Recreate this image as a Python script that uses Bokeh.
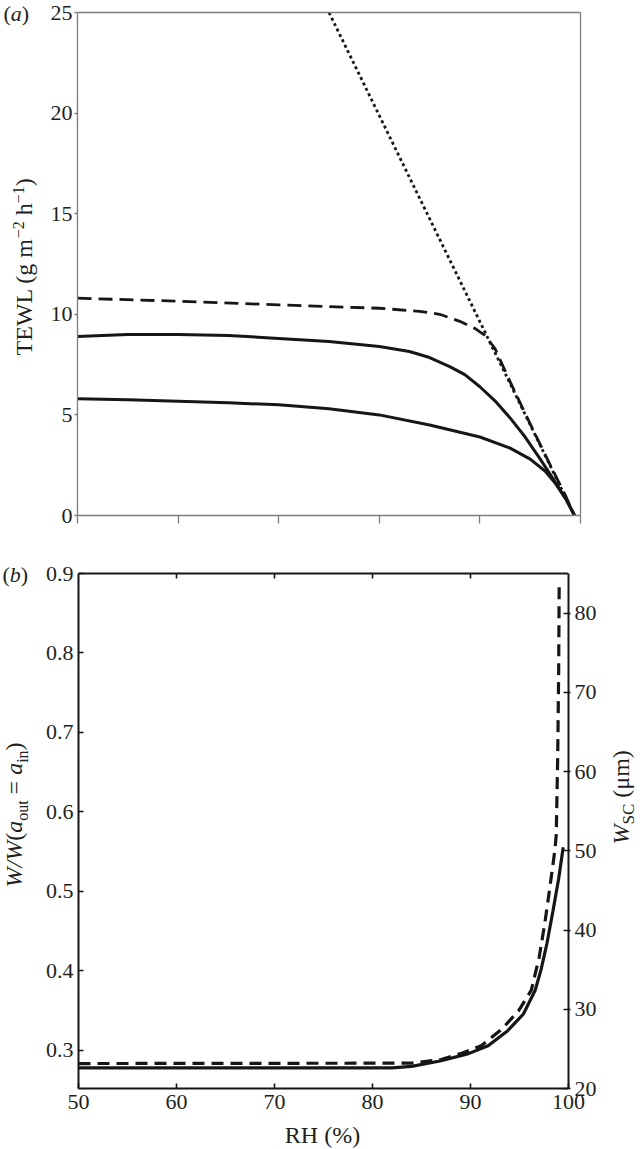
import math
from bokeh.plotting import figure
from bokeh.models import Range1d, LinearAxis, FixedTicker, Label, PrintfTickFormatter, Span
from bokeh.layouts import column, row
from bokeh.embed import file_html
from bokeh.resources import INLINE

# ---------------- data ----------------
# panel (a): TEWL vs RH
rh_a_upper = [50, 55, 60, 65, 70, 75, 80, 83, 85, 87, 88.5, 90, 91.5, 93, 94.5, 96, 97.5, 98.7, 99.4]
tewl_upper = [8.9, 9.0, 9.0, 8.95, 8.8, 8.65, 8.4, 8.15, 7.85, 7.4, 7.0, 6.4, 5.7, 4.85, 3.9, 2.8, 1.65, 0.7, 0.0]

rh_a_lower = [50, 55, 60, 65, 70, 75, 80, 85, 90, 93, 95, 96.5, 97.5, 98.5, 99.4]
tewl_lower = [5.8, 5.75, 5.68, 5.6, 5.5, 5.3, 5.0, 4.5, 3.9, 3.35, 2.8, 2.2, 1.6, 0.85, 0.0]

rh_a_dash = [50, 60, 70, 80, 84, 86, 88, 89.5, 90.5, 91.5, 93, 95, 97, 98.5, 99.4]
tewl_dash = [10.8, 10.65, 10.47, 10.3, 10.15, 10.0, 9.65, 9.3, 8.95, 8.3, 6.65, 4.55, 2.5, 1.0, 0.0]

rh_a_dot = [75.0, 99.4]
tewl_dot = [25.0, 0.0]

# panel (b): W_SC (um) vs RH
rh_b_solid = [50, 82, 84, 87, 89.8, 91.8, 93.8, 95.4, 96.6, 97.2, 97.8, 98.4, 99.0, 99.46]
wsc_solid = [22.6, 22.6, 22.8, 23.5, 24.4, 25.4, 27.3, 29.4, 32.4, 35.0, 38.3, 42.3, 46.5, 50.45]

rh_b_dash = [50, 84, 87, 89, 91.1, 93.2, 94.9, 96.2, 97.0, 97.6, 98.1, 98.6, 98.75, 98.9, 99.0, 99.05]
wsc_dash = [23.15, 23.2, 23.66, 24.4, 25.4, 27.5, 29.8, 32.4, 36.5, 41.0, 45.4, 50.0, 52.0, 62.0, 73.0, 83.7]

x_ticks = [50, 60, 70, 80, 90, 100]
x_ticks_top_b = [60, 70, 80, 90]
tewl_ticks = [0, 5, 10, 15, 20, 25]
ratio_ticks = [0.3, 0.4, 0.5, 0.6, 0.7, 0.8, 0.9]
wsc_ticks = [20, 30, 40, 50, 60, 70, 80]

# ---------------- styling ----------------
FONT = "Liberation Serif"
TXT = "#231f20"
INK = "#161616"
GRAY = "#7d7d7d"
MID = 0.34          # em-box middle above the alphabetic baseline (fraction of font size)

W_REG = {' ': 250, '(': 333, ')': 333, '%': 833, '\u2212': 564, '=': 564, 'a': 444, 'g': 500,
         'h': 500, 'm': 778, 'n': 500, 'o': 500, 'u': 500, 't': 278, 'i': 278, 'S': 556,
         'C': 667, 'R': 667, 'H': 722, 'T': 611, 'E': 611, 'W': 944, 'L': 611, '\u03bc': 500,
         '/': 278, 'b': 500}
W_IT = {'W': 833, 'a': 500, 'b': 500, '/': 278, ' ': 250}
for d in "0123456789":
    W_REG[d] = 500


def text_w(s, size, italic):
    tab = W_IT if italic else W_REG
    return sum(tab.get(c, W_REG.get(c, 500)) for c in s) * size / 1000.0


def strip(w, h):
    """A bare figure used only as a canvas for label text (data units == pixels)."""
    s = figure(frame_width=w, frame_height=h, min_border=0, x_range=Range1d(0, w),
               y_range=Range1d(0, h), x_axis_location=None, y_axis_location=None,
               output_backend="svg", toolbar_location=None)
    s.outline_line_color = None
    s.grid.visible = False
    s.background_fill_color = "white"
    s.border_fill_color = "white"
    return s


def rich(s, left, bottom, base, start, segs, vertical):
    """Place text segments (page pixels: base = alphabetic baseline) onto strip s."""
    cur = start
    for text, size, italic, shift in segs:
        lead = len(text) - len(text.lstrip(' '))
        trail = len(text) - len(text.rstrip(' '))
        core = text.strip(' ')
        sp = W_REG[' '] * size / 1000.0
        mid = base - shift - MID * size
        if vertical:
            cur -= lead * sp
            px, py, ang = mid, cur, math.pi / 2
        else:
            cur += lead * sp
            px, py, ang = cur, mid, 0
        s.add_layout(Label(x=px - left, y=bottom - py, text=core, angle=ang,
                           text_align="left", text_baseline="middle", text_font=FONT,
                           text_font_size=f"{size}px",
                           text_font_style="italic" if italic else "normal",
                           text_color=TXT))
        adv = text_w(core, size, italic) + trail * sp
        cur = cur - adv if vertical else cur + adv


# ---------------- geometry (page pixels) ----------------
STRIP_L = 42                      # width of the left label strips
A_L, A_W, A_T, A_B = 77, 503, 12, 515   # visible box of panel (a)
P1_H = 537
B_L, B_W, B_T, B_B = 77, 490, 573, 1088  # visible box of panel (b)
P2_R = 604
P2_BOTTOM = 1120
TOTAL_H = 1148

# frames start at the top of each row (no top border), ranges extended so that the
# visible box top sits at the reference position
A_YTOP = 25.0 * A_B / (A_B - A_T)
B_LMIN, B_LMAX = 0.2522, 0.9
B_RMIN, B_RMAX = 20.0, 85.0
B_PAD = B_T - P1_H
B_LTOP = B_LMAX + B_PAD * (B_LMAX - B_LMIN) / (B_B - B_T)
B_RTOP = B_RMAX + B_PAD * (B_RMAX - B_RMIN) / (B_B - B_T)

# ---------------- panel (a) ----------------
p1 = figure(frame_width=A_W, frame_height=A_B, min_border_left=A_L - STRIP_L,
            min_border_right=644 - A_L - A_W, min_border_top=0,
            min_border_bottom=P1_H - A_B,
            x_range=Range1d(50, 100), y_range=Range1d(0, A_YTOP),
            output_backend="svg", toolbar_location=None)
p1.background_fill_color = "white"
p1.border_fill_color = "white"
p1.grid.visible = False
p1.outline_line_color = None

xa1 = p1.xaxis[0]
ya1 = p1.yaxis[0]
xa1.ticker = FixedTicker(ticks=x_ticks)
xa1.major_label_overrides = {t: "" for t in x_ticks}
xa1.major_label_text_font_size = "1px"
xa1.major_label_standoff = 0
xa1.major_tick_in = 0
xa1.major_tick_out = 8
ya1.ticker = FixedTicker(ticks=tewl_ticks)
ya1.bounds = (0, 25)
ya1.major_tick_in = 0
ya1.major_tick_out = 3
ya1.major_label_standoff = 2
ra1 = LinearAxis(ticker=FixedTicker(ticks=[]), bounds=(0, 25), major_tick_in=0,
                 major_tick_out=0, major_label_text_font_size="1px")
p1.add_layout(ra1, "right")
for a in (xa1, ya1, ra1):
    a.axis_line_color = GRAY
    a.axis_line_width = 1.3
    a.major_tick_line_color = GRAY
    a.major_tick_line_width = 1.3
    a.minor_tick_line_color = None
    a.major_label_text_font = FONT
    a.major_label_text_color = TXT
ya1.major_label_text_font_size = "22px"
p1.add_layout(Span(location=25, dimension="width", line_color=GRAY, line_width=1.3))

p1.line(rh_a_dot, tewl_dot, line_color=INK, line_width=2.8, line_dash="3 3")
p1.line(rh_a_dash, tewl_dash, line_color=INK, line_width=2.8, line_dash="14 7")
p1.line(rh_a_upper, tewl_upper, line_color=INK, line_width=3)
p1.line(rh_a_lower, tewl_lower, line_color=INK, line_width=3)

sA = strip(STRIP_L, P1_H)
rich(sA, 0, P1_H, 32, 355,
     [("TEWL (g m", 24, False, 0), ("\u22122", 16, False, 9), (" h", 24, False, 0),
      ("\u22121", 16, False, 9), (")", 24, False, 0)], vertical=True)
rich(sA, 0, P1_H, 20, 3, [("(", 22, False, 0), ("a", 22, True, 0), (")", 22, False, 0)],
     vertical=False)

# ---------------- panel (b) ----------------
p2 = figure(frame_width=B_W, frame_height=B_B - P1_H, min_border_left=B_L - STRIP_L,
            min_border_right=P2_R - B_L - B_W, min_border_top=0,
            min_border_bottom=P2_BOTTOM - B_B,
            x_range=Range1d(50, 100), y_range=Range1d(B_LMIN, B_LTOP),
            output_backend="svg", toolbar_location=None)
p2.extra_y_ranges = {"wsc": Range1d(B_RMIN, B_RTOP)}
p2.background_fill_color = "white"
p2.border_fill_color = "white"
p2.grid.visible = False
p2.outline_line_color = None

xa2 = p2.xaxis[0]
ya2 = p2.yaxis[0]
xa2.ticker = FixedTicker(ticks=x_ticks)
xa2.major_tick_in = 5
xa2.major_tick_out = 0
xa2.major_label_standoff = 6
ya2.ticker = FixedTicker(ticks=ratio_ticks)
ya2.formatter = PrintfTickFormatter(format="%.1f")
ya2.bounds = (B_LMIN, B_LMAX)
ya2.major_tick_in = 5
ya2.major_tick_out = 0
ya2.major_label_standoff = 5

right = LinearAxis(y_range_name="wsc", ticker=FixedTicker(ticks=wsc_ticks),
                   bounds=(B_RMIN, B_RMAX), major_tick_in=5, major_tick_out=2,
                   major_label_standoff=4)
p2.add_layout(right, "right")

for a in (xa2, ya2, right):
    a.axis_line_color = INK
    a.axis_line_width = 2
    a.major_tick_line_color = INK
    a.major_tick_line_width = 1.6
    a.minor_tick_line_color = None
    a.major_label_text_font = FONT
    a.major_label_text_color = TXT
    a.major_label_text_font_size = "22px"

# top edge of the box with its inward ticks
p2.add_layout(Span(location=B_LMAX, dimension="width", line_color=INK, line_width=2))
tick_len = 5 * (B_LTOP - B_LMIN) / (B_B - P1_H)
p2.segment(x0=x_ticks_top_b, y0=[B_LMAX] * len(x_ticks_top_b), x1=x_ticks_top_b,
           y1=[B_LMAX - tick_len] * len(x_ticks_top_b), line_color=INK, line_width=1.6)

p2.line(rh_b_solid, wsc_solid, y_range_name="wsc", line_color=INK, line_width=3.2)
p2.line(rh_b_dash, wsc_dash, y_range_name="wsc", line_color=INK, line_width=3.2,
        line_dash="12 7")

P2_H = P2_BOTTOM - P1_H
sB = strip(STRIP_L, P2_H)
rich(sB, 0, P2_BOTTOM, 22, 887,
     [("W/W", 24, True, 0), ("(", 24, False, 0), ("a", 24, True, 0), ("out", 16, False, -5),
      (" = ", 24, False, 0), ("a", 24, True, 0), ("in", 16, False, -5), (")", 24, False, 0)],
     vertical=True)
rich(sB, 0, P2_BOTTOM, 581, 2, [("(", 22, False, 0), ("b", 22, True, 0), (")", 22, False, 0)],
     vertical=False)

sC = strip(644 - P2_R, P2_H)
rich(sC, P2_R, P2_BOTTOM, 628, 844,
     [("W", 24, True, 0), ("SC", 17, False, -5), (" (\u03bcm)", 24, False, 0)], vertical=True)

BOT_H = TOTAL_H - P2_BOTTOM
sD = strip(644, BOT_H)
sD.add_layout(Label(x=322, y=TOTAL_H - 1134, text="RH (%)", text_align="center",
                    text_baseline="middle", text_font=FONT, text_font_size="24px",
                    text_color=TXT))

layout = column(row(sA, p1), row(sB, p2, sC), sD)
open("out.html", "w").write(file_html(layout, INLINE))
